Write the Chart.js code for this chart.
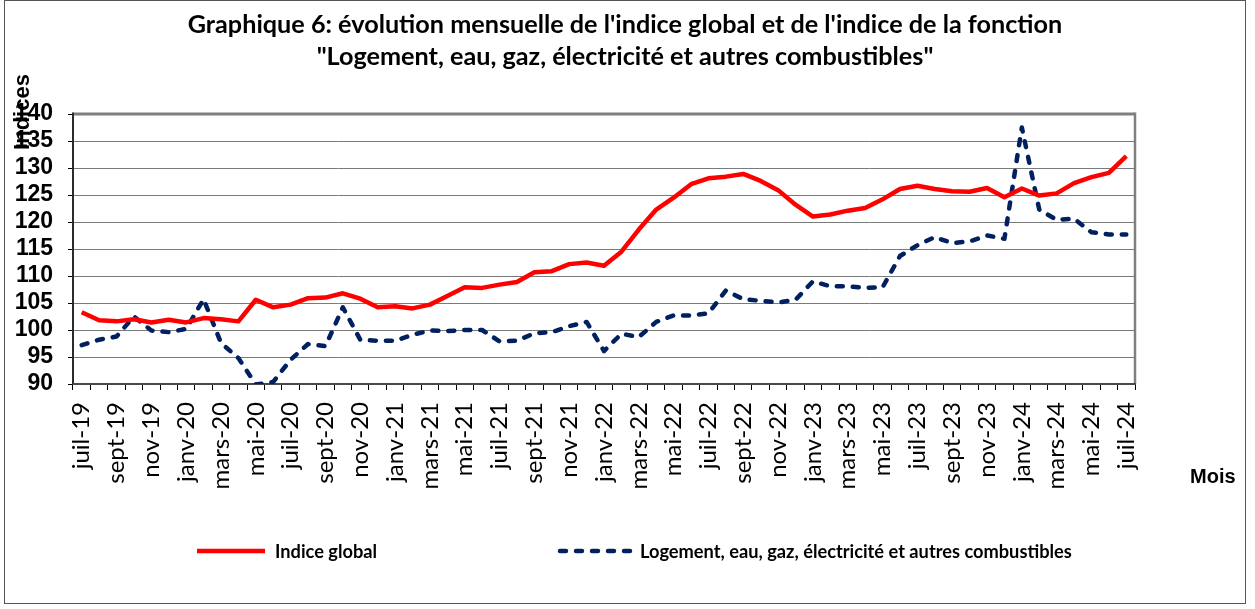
<!DOCTYPE html>
<html><head><meta charset="utf-8">
<script src="https://cdn.jsdelivr.net/npm/chart.js@4"></script>
<style>html,body{margin:0;padding:0;background:#fff}#wrap{width:1255px;height:609px;position:relative}</style>
</head><body><div id="wrap"><canvas id="c"></canvas></div>
<script>
const categories = [
 "juil-19","août-19","sept-19","oct-19","nov-19","déc-19",
 "janv-20","févr-20","mars-20","avr-20","mai-20","juin-20","juil-20","août-20","sept-20","oct-20","nov-20","déc-20",
 "janv-21","févr-21","mars-21","avr-21","mai-21","juin-21","juil-21","août-21","sept-21","oct-21","nov-21","déc-21",
 "janv-22","févr-22","mars-22","avr-22","mai-22","juin-22","juil-22","août-22","sept-22","oct-22","nov-22","déc-22",
 "janv-23","févr-23","mars-23","avr-23","mai-23","juin-23","juil-23","août-23","sept-23","oct-23","nov-23","déc-23",
 "janv-24","févr-24","mars-24","avr-24","mai-24","juin-24","juil-24"
];
const indiceGlobal = [
 103.3,101.8,101.6,102.0,101.4,101.9,
 101.4,102.2,102.0,101.6,105.6,104.2,104.7,105.9,106.0,106.8,105.8,104.2,
 104.4,104.0,104.7,106.3,107.9,107.8,108.4,108.9,110.7,110.9,112.2,112.5,
 111.9,114.5,118.6,122.3,124.5,127.0,128.1,128.4,128.9,127.6,125.9,123.2,
 121.0,121.4,122.1,122.6,124.2,126.1,126.7,126.1,125.7,125.6,126.3,124.6,
 126.2,124.9,125.3,127.2,128.3,129.1,132.2
];
const logement = [
 97.2,98.2,98.8,102.5,99.9,99.6,
 100.2,105.7,97.6,94.8,89.9,90.4,94.5,97.4,97.0,104.2,98.2,98.0,
 98.0,99.1,99.9,99.8,100.0,100.0,97.9,98.0,99.4,99.6,100.7,101.5,
 96.1,99.3,98.7,101.5,102.7,102.7,103.1,107.3,105.7,105.4,105.1,105.6,
 109.0,108.1,108.1,107.8,107.9,113.7,115.7,117.2,116.1,116.4,117.5,116.9,
 137.5,122.3,120.4,120.6,118.1,117.7,117.7
];
const yMin = 90, yMax = 140, yStep = 5;
const titleLines = ["Graphique 6: évolution mensuelle de l'indice global et de l'indice de la fonction",
                    "\"Logement, eau, gaz, électricité et autres combustibles\""];
const seriesNames = ["Indice global", "Logement, eau, gaz, électricité et autres combustibles"];
const xAxisName = "Mois";
const yAxisName = "Indices";

const RED = "#FF0000", BLUE = "#002060";
const CALIBRI = "Lato, 'Open Sans', sans-serif";
const ARIAL = "'Liberation Sans', Arial, sans-serif";

function fitFont(ctx, weight, family, text, target){
  ctx.font = weight + " 20px " + family;
  const w = ctx.measureText(text).width;
  return 20 * target / w;
}

const framePlugin = {
  id: 'frame',
  beforeDatasetsDraw(chart){
    const {ctx, chartArea:a} = chart;
    ctx.save();
    ctx.lineCap = 'butt';
    ctx.strokeStyle = '#808080'; ctx.lineWidth = 3;
    ctx.beginPath(); ctx.moveTo(a.left, a.top); ctx.lineTo(a.right, a.top); ctx.stroke();
    ctx.lineWidth = 2.5;
    ctx.beginPath(); ctx.moveTo(a.right, a.top-1.5); ctx.lineTo(a.right, a.bottom); ctx.stroke();
    ctx.strokeStyle = '#2b2b2b'; ctx.lineWidth = 2;
    ctx.beginPath(); ctx.moveTo(a.left, a.top-1.5); ctx.lineTo(a.left, a.bottom+1); ctx.stroke();
    ctx.strokeStyle = '#4a4a4a';
    ctx.beginPath(); ctx.moveTo(a.left, a.bottom); ctx.lineTo(a.right+1, a.bottom); ctx.stroke();
    ctx.restore();
  },
  afterDraw(chart){
    const {ctx} = chart;
    ctx.save();
    ctx.strokeStyle = '#555'; ctx.lineWidth = 1;
    ctx.strokeRect(4.5, 0.5, 1241, 603);
    const ts = fitFont(ctx, 'bold', CALIBRI, titleLines[0], 875);
    ctx.font = 'bold ' + ts + 'px ' + CALIBRI;
    ctx.fillStyle = '#000'; ctx.textAlign = 'center'; ctx.textBaseline = 'middle';
    ctx.fillText(titleLines[0], 625, 25);
    ctx.fillText(titleLines[1], 625, 57);
    ctx.font = 'bold 22px ' + ARIAL;
    ctx.save(); ctx.translate(23, 112); ctx.rotate(-Math.PI/2);
    ctx.fillText(yAxisName, 0, 0); ctx.restore();
    ctx.font = 'bold 20px ' + ARIAL;
    ctx.textAlign = 'left';
    ctx.fillText(xAxisName, 1190, 477);
    const ls = fitFont(ctx, 'bold', CALIBRI, seriesNames[1], 432);
    ctx.font = 'bold ' + ls + 'px ' + CALIBRI;
    const ly = 551;
    const ds = chart.data.datasets;
    ctx.lineWidth = 4.5; ctx.strokeStyle = ds[0].borderColor; ctx.setLineDash([]);
    ctx.beginPath(); ctx.moveTo(197, ly); ctx.lineTo(265, ly); ctx.stroke();
    ctx.fillText(seriesNames[0], 275, ly+1);
    ctx.strokeStyle = ds[1].borderColor; ctx.setLineDash(ds[1].borderDash); ctx.lineCap = 'round';
    ctx.beginPath(); ctx.moveTo(560, ly); ctx.lineTo(630, ly); ctx.stroke();
    ctx.setLineDash([]);
    ctx.fillText(seriesNames[1], 640, ly+1);
    ctx.restore();
  }
};

new Chart(document.getElementById('c'), {
  type: 'line',
  data: {
    labels: categories,
    datasets: [
      { label: seriesNames[0], data: indiceGlobal, borderColor: RED, backgroundColor: RED,
        borderWidth: 4.5, pointRadius: 0, tension: 0, borderJoinStyle: 'round' },
      { label: seriesNames[1], data: logement, borderColor: BLUE, backgroundColor: BLUE,
        borderWidth: 4.5, borderDash: [6, 10], borderCapStyle: 'round', pointRadius: 0, tension: 0, borderJoinStyle: 'round' }
    ]
  },
  options: {
    responsive: true, maintainAspectRatio: false, animation: false,
    layout: { padding: { top: 114, right: 120, bottom: 115, left: 0 } },
    plugins: { legend: { display: false }, title: { display: false }, tooltip: { enabled: false } },
    scales: {
      x: {
        offset: true,
        afterFit(s){ s.height = 110; },
        grid: { offset: true, drawOnChartArea: false, drawTicks: true, tickLength: 6, tickColor: '#000', tickWidth: 1 },
        border: { display: false },
        ticks: { autoSkip: false, maxRotation: 90, minRotation: 90, padding: 12, color: '#000',
          font: { family: CALIBRI, size: 24 },
          callback(v, i){ return i % 2 === 0 ? categories[i] : ''; } }
      },
      y: {
        min: yMin, max: yMax,
        afterFit(s){ s.width = 73; },
        grid: { color: '#7a7a7a', lineWidth: 1, borderDash: [2, 2], tickLength: 5, tickColor: '#000', tickBorderDash: [], tickWidth: 1 },
        border: { display: false },
        ticks: { stepSize: yStep, autoSkip: false, padding: 15, color: '#000', font: { family: ARIAL, size: 23, weight: 'bold' } }
      }
    }
  },
  plugins: [framePlugin]
});
</script>
</body></html>
